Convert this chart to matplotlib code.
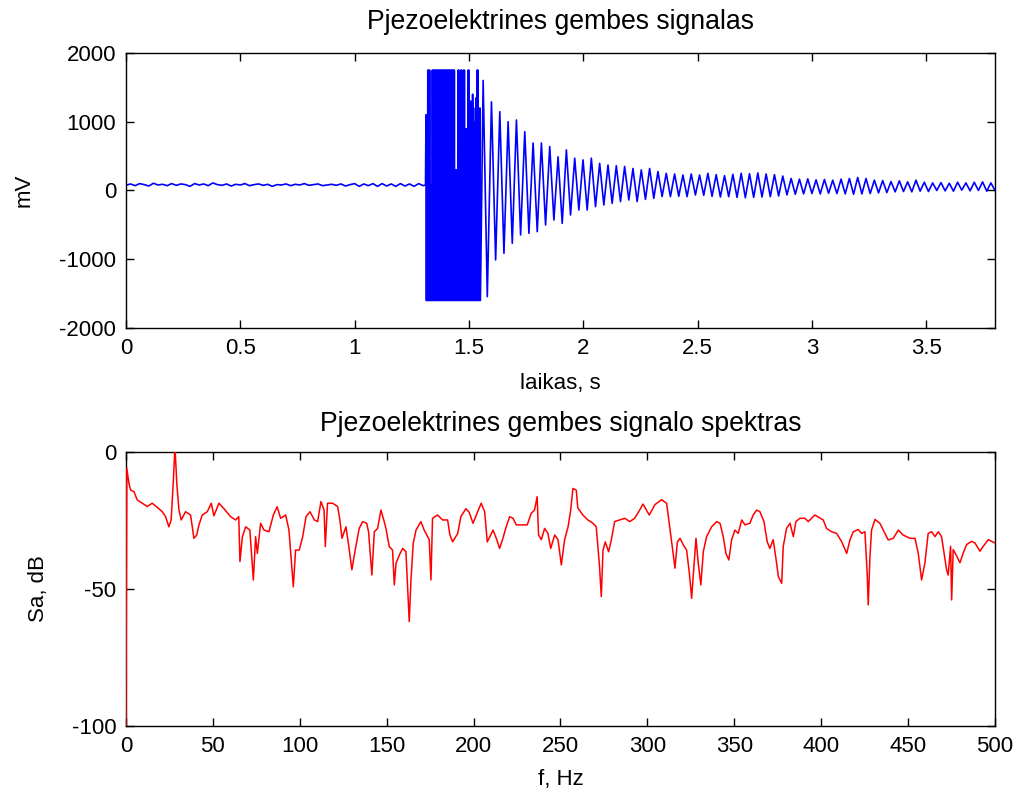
import numpy as np
import matplotlib
matplotlib.use("Agg")
import matplotlib.pyplot as plt

# ---- top panel: piezo beam signal (mV) ----
# quiet part before the impact, one value every 20 ms from t = 0
quiet_dt = 0.02
quiet_mv = [75, 95, 70, 100, 85, 65, 105, 80, 90, 70, 100, 75, 95, 85, 60, 100,
            80, 95, 70, 110, 85, 75, 95, 65, 90, 80, 100, 70, 85, 95, 75, 90,
            60, 85, 80, 95, 70, 90, 80, 100, 75, 85, 95, 70, 80, 90, 75, 95,
            65, 85, 100, 60, 95, 70, 100, 60, 100, 65, 95, 60, 100, 65, 95, 60,
            100, 70]

# impact burst, one sample every 2 ms from t = 1.31 s (clipped at +1750 / -1600)
clip_hi, clip_lo = 1750, -1600
burst_t0, burst_dt = 1.31, 0.002
burst_start = [80, 1100, clip_lo, 1100, clip_lo, clip_hi, clip_lo, clip_hi, clip_lo,
               clip_hi, clip_lo, 80, clip_lo, 80, clip_lo]
burst_solid = [clip_hi, clip_lo] * 23
burst_tail_hi = [1750, 1750, 100, 300, 100, 1750, 1750, 400, 1750, 1750, 500, 1750,
                 1750, 300, 900, 400, 1750, 1750, 600, 1300, 800, 1400, 1200, 600,
                 1000, 1350, 1750, 1750, 700, 1200]

# ringing after the burst: one upper and one lower peak per cycle
ring_t0, ring_period = 1.562, 0.0364
ring_upper = [1600, 1290, 1146, 1000, 1025, 855, 690, 690, 640, 490, 590, 470, 445, 470,
              395, 370, 360, 350, 320, 300, 320, 275, 250, 240, 225, 240, 225, 250,
              230, 215, 235, 250, 245, 255, 240, 230, 210, 175, 165, 170, 155, 160,
              150, 165, 175, 190, 175, 150, 145, 130, 140, 125, 150, 120, 110, 115,
              105, 120, 110, 120, 125, 110]
ring_lower = [-1544, -1011, -914, -768, -647, -623, -599, -502, -429, -478, -356, -284,
              -284, -235, -211, -187, -162, -138, -162, -130, -114, -89, -89, -85, -89,
              -65, -70, -85, -95, -90, -100, -105, -100, -95, -90, -80, -65, -55, -50,
              -45, -50, -40, -45, -50, -55, -50, -45, -35, -30, -20, -15, -20, -10,
              -15, 0, -5, -10, 5, -5, 0, -10, 0]

# ---- bottom panel: spectrum (dB) ----
spec_f = [0, 0.5, 1.7, 2.7, 4.6, 6.5, 9.4, 12.3, 15.1, 18, 20.9, 22.8, 24.7, 26, 27.2,
          28.2, 29.3, 30.5, 31.8, 34.3, 37.2, 39.1, 40.7, 42, 43.9, 46.8, 49.1, 50.6,
          53.5, 56.4, 60.2, 63.1, 64.9, 65.6, 67, 68.9, 71.3, 73.3, 74.6, 75.6, 77.5,
          79.4, 82.3, 84.8, 87, 89, 91.9, 93.8, 96.3, 97.6, 99.7, 101.7, 103.6, 105.9,
          108.4, 110.3, 112.2, 114, 114.7, 116, 118.9, 121.8, 123.1, 124.3, 126.6,
          128.1, 130, 131.9, 134.2, 136.2, 138.5, 139.6, 141.5, 142.9, 144.8, 146.7,
          148.6, 149.6, 151.5, 153.4, 154.4, 155.4, 157.3, 159.2, 161.1, 163, 164,
          165.3, 166.9, 169.7, 171.6, 173.6, 174.5, 175.5, 176.4, 179.3, 182.2, 185.1,
          186.4, 188, 190.9, 192.7, 195.6, 197.5, 199.7, 201.6, 204.4, 206.4, 207.9,
          209.4, 211.2, 213.1, 215, 216.9, 218.8, 220.8, 222.7, 224.6, 227.5, 230.9,
          233.2, 235.1, 236.6, 237.4, 239, 240.9, 242.8, 244.4, 246.7, 248.6, 250.5,
          252.4, 254.4, 255.9, 257.2, 259.1, 260, 262.9, 265.8, 268.7, 270.6, 272.5,
          273.5, 274.5, 275.8, 277.7, 279.3, 281.2, 284.1, 287, 289.9, 292.7, 295.6,
          297.5, 301.1, 304.4, 308.2, 311.1, 313, 314.6, 315.9, 317.3, 318.8, 320.7,
          322.6, 324.2, 325.5, 326.5, 328, 329.3, 330.8, 332.2, 334.1, 337, 339.9,
          341.8, 343.7, 345.2, 346.9, 348.5, 350.4, 352.3, 354.3, 356.2, 359, 360.9,
          362.9, 364.8, 367.1, 369, 370.5, 372.4, 374, 375.4, 377.3, 378.2, 380.1,
          382.1, 384, 385.5, 387.8, 390.7, 392.6, 396.4, 401.2, 403.1, 406, 408.9,
          411.8, 414.7, 416.6, 418.5, 421.3, 423.3, 425.2, 426.5, 427.1, 428.1, 429,
          431, 433.8, 436.7, 438.6, 441.5, 444.4, 447.2, 451.1, 454, 455.9, 457.8,
          459.7, 461.6, 463.6, 465.5, 467.4, 469.3, 472.2, 473.1, 474.5, 475.1, 476,
          478, 479.9, 481.8, 483.7, 486.6, 488.5, 491.4, 493.3, 496.2, 498.1, 500]
spec_db = [-100, -6, -11.4, -13.9, -14.5, -17.5, -18.7, -19.9, -18.7, -20.2, -21.8, -23.6,
           -27.3, -24.8, -11.4, 2, -12, -21.2, -24.8, -21.8, -23, -31.5, -30.3, -26.6,
           -23, -21.8, -18.7, -23.3, -18.7, -20.7, -23.6, -24.8, -23.6, -40, -30.9,
           -27.3, -28.5, -46.7, -30.9, -37, -26, -28.5, -29.1, -23, -20, -24.2, -23,
           -28.5, -49.2, -35.8, -35.8, -30.9, -23.6, -21.8, -24.8, -25.4, -18.1, -21.2,
           -34.5, -18.7, -18.7, -19.9, -24.8, -31.5, -27.3, -33.9, -43, -35.8, -27.9,
           -25.4, -26, -29.1, -44.9, -29.1, -27.9, -21.2, -25.4, -27.9, -34.5, -35.8,
           -48.5, -40.6, -37.6, -35.2, -36.4, -61.9, -46.7, -33.3, -28.5, -25.4, -28.5,
           -30.9, -32, -46.7, -24.2, -23, -24.8, -24.8, -30.3, -32.8, -29.7, -23.6,
           -20.7, -22, -26, -23, -18.7, -21.8, -32.8, -30.9, -28.5, -31.5, -35.2, -31.5,
           -27.3, -23.6, -24.2, -26.6, -26.6, -26.6, -22.4, -21.2, -16.3, -30.3, -32,
           -27.9, -29.7, -35.2, -30.3, -32, -41.2, -32, -27.3, -21.2, -13.3, -13.9,
           -20.4, -23, -24.8, -26, -27.3, -41.8, -52.8, -35.8, -32.8, -36.4, -32, -25.4,
           -24.8, -24.2, -25.4, -24.2, -21.2, -19, -23, -19.2, -17.4, -18.7, -27.9,
           -35.8, -42.4, -32.8, -31.5, -33.9, -35.8, -44.3, -53.4, -44.3, -31.5, -40.6,
           -48.5, -36.4, -30.9, -27.3, -25.4, -26, -30.9, -37, -39.4, -32, -28.5, -29.7,
           -24.8, -26.6, -26, -23, -21.2, -21.8, -25.4, -32.8, -35.2, -32, -38.8, -45.5,
           -47.9, -34.5, -27.9, -26, -30.9, -25.4, -24.2, -24.2, -25.4, -23, -24.8,
           -27.9, -29.1, -29.7, -32.7, -37, -32.1, -29.1, -28.3, -29.7, -29.1, -44.3,
           -55.8, -38.2, -28.5, -24.6, -26, -29.7, -32.1, -31.5, -28.5, -30.3, -31.5,
           -31.5, -37, -46.7, -40.6, -29.7, -29.1, -30.9, -29.1, -30.9, -43, -44.9,
           -34.4, -54, -35.6, -38, -40.4, -36.8, -33.8, -32.6, -33.2, -36.2, -34.4, -32,
           -32.6, -33.2]

# assemble the time signal
t_quiet = np.arange(len(quiet_mv)) * quiet_dt
burst_tail = []
for hi in burst_tail_hi:
    burst_tail += [hi, clip_lo]
burst_mv = burst_start + burst_solid + burst_tail
t_burst = burst_t0 + np.arange(len(burst_mv)) * burst_dt
t_up = ring_t0 + np.arange(len(ring_upper)) * ring_period
t_lo = t_up + ring_period / 2
t_ring = np.column_stack([t_up, t_lo]).ravel()
ring_mv = np.column_stack([ring_upper, ring_lower]).ravel()

t_all = np.concatenate([t_quiet, t_burst, t_ring])
mv_all = np.concatenate([quiet_mv, burst_mv, ring_mv])

plt.rcParams["font.family"] = ["Liberation Sans", "DejaVu Sans"]
plt.rcParams["font.size"] = 16
plt.rcParams["axes.unicode_minus"] = False

fig = plt.figure(figsize=(10.24, 7.98), dpi=100)
ax1 = fig.add_axes([0.1230, 0.5890, 0.8486, 0.3446])
ax2 = fig.add_axes([0.1230, 0.0902, 0.8486, 0.3434])

ax1.plot(t_all, mv_all, color="#0000ff", lw=1.2)
ax1.set_xlim(0, 3.8)
ax1.set_ylim(-2000, 2000)
ax1.set_xticks(np.arange(0, 3.6, 0.5))
ax1.set_xticklabels(["0", "0.5", "1", "1.5", "2", "2.5", "3", "3.5"])
ax1.set_yticks([-2000, -1000, 0, 1000, 2000])
ax1.set_title("Pjezoelektrines gembes signalas", pad=17)
ax1.set_xlabel("laikas, s", labelpad=10)
ax1.set_ylabel("mV", labelpad=18)

ax2.plot(spec_f, spec_db, color="#ff0000", lw=1.1, zorder=3)
ax2.set_xlim(0, 500)
ax2.set_ylim(-100, 0)
ax2.set_xticks(np.arange(0, 501, 50))
ax2.set_yticks([-100, -50, 0])
ax2.set_title("Pjezoelektrines gembes signalo spektras", pad=15)
ax2.set_xlabel("f, Hz", labelpad=9)
ax2.set_ylabel("Sa, dB", labelpad=16)

for ax in (ax1, ax2):
    ax.tick_params(direction="in", length=6, width=1, top=True, right=True, pad=7)
    for sp in ax.spines.values():
        sp.set_linewidth(1)

fig.savefig("out.png", dpi=100)
